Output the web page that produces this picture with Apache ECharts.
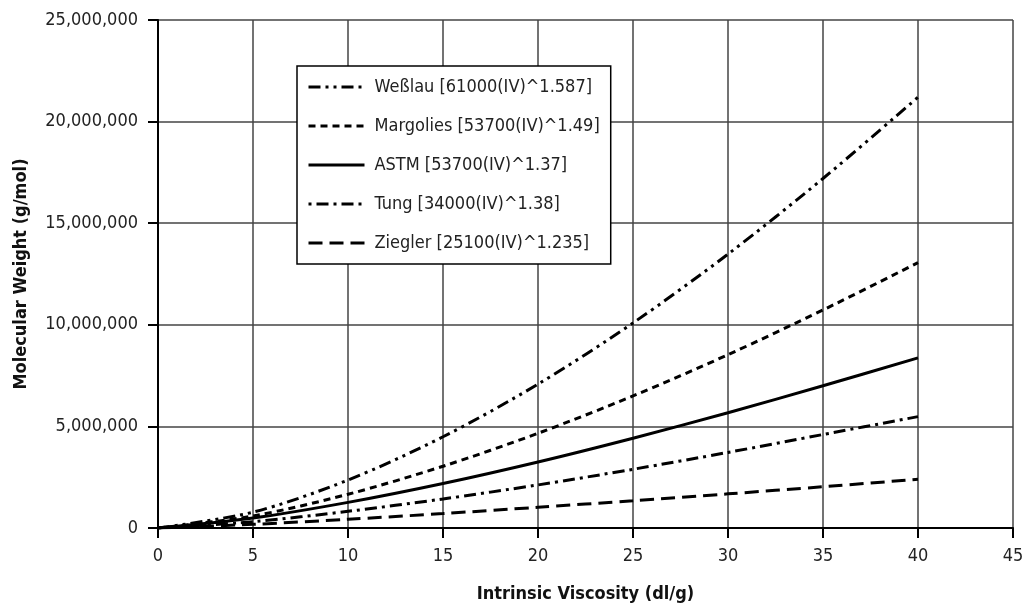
<!DOCTYPE html>
<html>
<head>
<meta charset="utf-8">
<script src="https://cdn.jsdelivr.net/npm/echarts@6/dist/echarts.min.js"></script>
<style>
  html, body { margin: 0; padding: 0; background: #fff; }
  #chart { width: 1025px; height: 604px; }
</style>
</head>
<body>
<div id="chart"></div>
<script>
// valores (x = viscosidade, y = peso molecular)
var iv = [0, 5, 10, 15, 20, 25, 30, 35, 40];
var weslau = [0, 780000, 2360000, 4490000, 7080000, 10090000, 13480000, 17200000, 21200000];
var margolies = [0, 590000, 1660000, 3040000, 4660000, 6500000, 8530000, 10730000, 13060000];
var astm = [0, 490000, 1260000, 2190000, 3250000, 4420000, 5670000, 7000000, 8370000];
var tung = [0, 310000, 820000, 1430000, 2120000, 2890000, 3720000, 4600000, 5480000];
var ziegler = [0, 180000, 430000, 710000, 1020000, 1340000, 1680000, 2030000, 2400000];

var names = [
    'Weßlau [61000(IV)^1.587]',
    'Margolies [53700(IV)^1.49]',
    'ASTM [53700(IV)^1.37]',
    'Tung [34000(IV)^1.38]',
    'Ziegler [25100(IV)^1.235]'
];
var dashes = [[12, 5, 3, 5, 3, 5], [7, 5], 'solid', [3, 5, 12, 5], [14, 7]];
var valores = [weslau, margolies, astm, tung, ziegler];

var fonte = '"DejaVu Sans Condensed", "DejaVu Sans", sans-serif';

function pares(ys) {
    return iv.map(function(x, i) { return [x, ys[i]]; });
}

var chartDom = document.getElementById('chart');
var myChart = echarts.init(chartDom);
var option;

option = {
    animation: false,
    grid: {
        left: 158,
        right: 12,
        top: 20,
        bottom: 76,
        outerBoundsMode: 'none'
    },
    legend: {
        orient: 'vertical',
        left: 297,
        top: 66,
        padding: [12, 11, 12, 10],
        itemWidth: 56,
        itemHeight: 14,
        itemGap: 21,
        borderColor: '#000',
        borderWidth: 1.5,
        backgroundColor: '#fff',
        itemStyle: { color: 'transparent', borderWidth: 0, opacity: 0 },
        lineStyle: { width: 3 },
        textStyle: {
            fontFamily: fonte,
            fontSize: 18,
            color: '#222',
            padding: [0, 0, 0, 5]
        },
        data: names
    },
    xAxis: {
        type: 'value',
        min: 0,
        max: 45,
        interval: 5,
        name: 'Intrinsic Viscosity (dl/g)',
        nameLocation: 'middle',
        nameGap: 57,
        nameTextStyle: {
            fontFamily: fonte,
            fontSize: 18,
            fontWeight: 'bold',
            color: '#111'
        },
        axisLine: { onZero: false, lineStyle: { color: '#000', width: 2 } },
        axisTick: { show: true, length: 10, lineStyle: { color: '#000', width: 2 } },
        axisLabel: { fontFamily: fonte, fontSize: 18, color: '#222', margin: 19 },
        splitLine: { show: true, lineStyle: { color: '#444', width: 1.5 } }
    },
    yAxis: {
        type: 'value',
        min: 0,
        max: 25000000,
        interval: 5000000,
        name: 'Molecular Weight (g/mol)',
        nameLocation: 'middle',
        nameGap: 128,
        nameTextStyle: {
            fontFamily: fonte,
            fontSize: 18,
            fontWeight: 'bold',
            color: '#111'
        },
        axisLine: { show: true, lineStyle: { color: '#000', width: 2 } },
        axisTick: { show: true, length: 10, lineStyle: { color: '#000', width: 2 } },
        axisLabel: {
            fontFamily: fonte,
            fontSize: 18,
            color: '#222',
            margin: 20,
            formatter: function(v) { return v.toLocaleString('en-US'); }
        },
        splitLine: { show: true, lineStyle: { color: '#444', width: 1.5 } }
    },
    series: valores.map(function(ys, i) {
        return {
            name: names[i],
            type: 'line',
            smooth: 0.3,
            symbol: 'none',
            data: pares(ys),
            lineStyle: { color: '#000', width: 3, type: dashes[i] },
            itemStyle: { color: '#000' }
        };
    })
};

option && myChart.setOption(option);
</script>
</body>
</html>
